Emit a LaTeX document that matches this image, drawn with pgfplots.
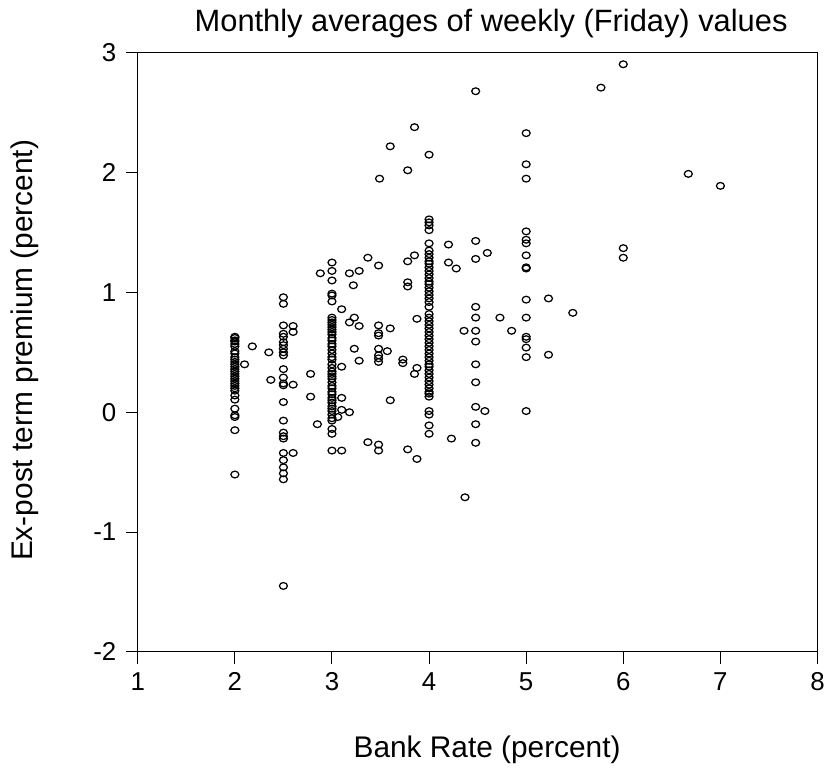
\documentclass[border=0pt]{standalone}
\usepackage{pgfplots}
\pgfplotsset{compat=1.18}
\usepackage{pgfplotstable}
\usepackage{fontspec}
\setmainfont{Liberation Sans}
\pgfplotstableread{
x y
2 0.63
2 0.62
2 0.60
2 0.59
2 0.57
2 0.55
2 0.51
2 0.49
2 0.46
2 0.44
2 0.42
2 0.40
2 0.38
2 0.36
2 0.34
2 0.32
2 0.30
2 0.28
2 0.26
2 0.24
2 0.22
2 0.20
2 0.18
2 0.14
2 0.105
2 0.03
2 -0.025
2 -0.04
2 -0.15
2 -0.52
2.5 0.96
2.5 0.905
2.5 0.725
2.5 0.655
2.5 0.63
2.5 0.585
2.5 0.56
2.5 0.53
2.5 0.50
2.5 0.475
2.5 0.36
2.5 0.29
2.5 0.24
2.5 0.225
2.5 0.085
2.5 -0.07
2.5 -0.17
2.5 -0.20
2.5 -0.22
2.5 -0.34
2.5 -0.40
2.5 -0.46
2.5 -0.51
2.5 -0.56
2.5 -1.45
3 1.25
3 1.18
3 1.10
3 0.99
3 0.975
3 0.925
3 0.79
3 0.77
3 0.75
3 0.73
3 0.71
3 0.69
3 0.67
3 0.65
3 0.62
3 0.60
3 0.57
3 0.55
3 0.52
3 0.49
3 0.46
3 0.44
3 0.40
3 0.37
3 0.34
3 0.32
3 0.30
3 0.28
3 0.25
3 0.22
3 0.20
3 0.17
3 0.15
3 0.12
3 0.10
3 0.08
3 0.05
3 0.03
3 0.01
3 -0.02
3 -0.05
3 -0.07
3 -0.14
3 -0.18
3 -0.32
4 1.61
4 1.585
4 1.56
4 1.52
4 1.41
4 1.35
4 1.32
4 1.29
4 1.26
4 1.24
4 1.21
4 1.18
4 1.15
4 1.12
4 1.09
4 1.07
4 1.04
4 1.01
4 0.98
4 0.95
4 0.92
4 0.88
4 0.82
4 0.79
4 0.76
4 0.73
4 0.70
4 0.67
4 0.64
4 0.61
4 0.58
4 0.55
4 0.52
4 0.49
4 0.46
4 0.43
4 0.40
4 0.38
4 0.35
4 0.32
4 0.29
4 0.26
4 0.23
4 0.20
4 0.17
4 0.155
4 0.13
4 0.01
4 -0.02
4 -0.11
4 -0.18
2.18 0.55
2.10 0.40
2.35 0.50
2.37 0.27
2.60 0.72
2.60 0.67
2.60 0.23
2.60 -0.34
2.78 0.32
2.78 0.13
2.85 -0.10
2.88 1.16
3.10 0.86
3.10 0.38
3.10 0.12
3.10 0.02
3.06 -0.04
3.18 0.00
3.10 -0.32
3.18 1.16
3.28 1.18
3.22 1.06
3.23 0.79
3.18 0.75
3.28 0.72
3.23 0.53
3.28 0.43
3.37 1.29
3.48 1.225
3.48 0.725
3.48 0.66
3.48 0.64
3.60 0.70
3.48 0.53
3.57 0.51
3.48 0.475
3.48 0.45
3.48 0.42
3.73 0.44
3.73 0.41
3.875 0.37
3.85 0.32
3.60 0.10
3.37 -0.25
3.48 -0.27
3.48 -0.32
3.78 -0.31
3.875 -0.39
3.78 1.26
3.85 1.31
3.78 1.085
3.78 1.05
3.875 0.78
3.85 2.38
3.60 2.22
4.0 2.15
3.78 2.02
3.49 1.95
4.48 2.68
5 2.33
5 2.07
5 1.95
4.2 1.40
4.2 1.25
4.28 1.20
4.48 1.43
4.48 1.28
4.6 1.33
5 1.51
5 1.44
5 1.41
5 1.31
5 1.21
5 1.20
5 0.94
5 0.79
5 0.63
5 0.61
5 0.54
5 0.46
5 0.01
4.36 0.68
4.48 0.88
4.48 0.79
4.48 0.68
4.48 0.59
4.73 0.79
4.85 0.68
4.48 0.40
4.48 0.25
4.48 0.045
4.575 0.01
4.48 -0.10
4.48 -0.255
4.23 -0.22
4.37 -0.71
6 2.905
5.77 2.71
6.67 1.99
7 1.89
6 1.37
6 1.29
5.23 0.95
5.48 0.83
5.23 0.48
}\datatable
\begin{document}
\begin{tikzpicture}
\begin{axis}[
  scale only axis,
  width=681bp, height=600bp,
  at={(0,0)}, anchor=south west,
  xmin=1, xmax=8, ymin=-2, ymax=3,
  xtick={1,2,3,4,5,6,7,8},
  ytick={-2,-1,0,1,2,3},
  tick align=outside,
  tick pos=left,
  major tick length=12bp,
  axis line style={line width=1pt},
  every tick/.style={black, line width=1pt},
  /pgf/number format/assume math mode=true,
  tick label style={font=\fontsize{26}{30}\selectfont},
  xticklabel style={yshift=-5bp},
  yticklabel style={xshift=-6bp},
  clip=false,
]
\addplot[only marks, mark=o, mark size=4pt, mark options={line width=1.25pt, black, yscale=0.85}] table[x=x,y=y] {\datatable};
\end{axis}
\node[font=\fontsize{31}{35}\selectfont] at (354bp,629bp) {Monthly averages of weekly (Friday) values};
\node[font=\fontsize{30}{34}\selectfont] at (350bp,-98bp) {Bank Rate (percent)};
\node[font=\fontsize{30}{34}\selectfont, rotate=90] at (-113bp,302bp) {Ex-post term premium (percent)};
\useasboundingbox (-138bp,-123bp) rectangle (690bp,653bp);
\end{tikzpicture}
\end{document}
